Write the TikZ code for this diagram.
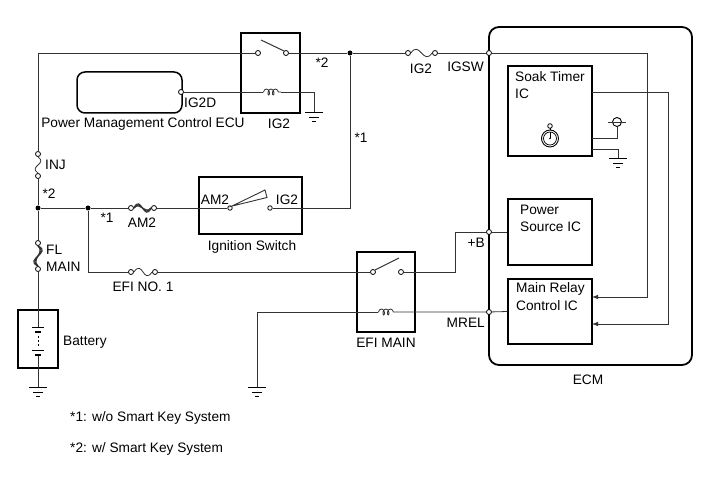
\documentclass[tikz,border=0pt]{standalone}
\usepackage{fontspec}
\setmainfont{Liberation Sans}
\usetikzlibrary{arrows.meta,decorations.pathmorphing}
\begin{document}
\begin{tikzpicture}[x=1pt,y=-1pt,
  wire/.style={line width=0.8pt, draw=black!80},
  box/.style={draw, line width=1.5pt, inner sep=0pt},
  term/.style={circle, draw, line width=0.8pt, fill=white, inner sep=0pt, minimum size=5pt},
  jdot/.style={circle, fill=black, inner sep=0pt, minimum size=5pt},
  lbl/.style={font=\fontsize{13.7}{16}\selectfont, inner sep=0pt},
  coilsty/.style={wire, decorate, decoration={coil, aspect=0.6, segment length=4.5pt, amplitude=3pt, pre length=0.5pt, post length=0.5pt}},
  gnd/.pic={\draw[line width=1pt] (-9,0) -- (9,0); \draw[line width=0.8pt] (-5,4) -- (5,4); \draw[line width=0.8pt] (-2,8) -- (2,8);},
  arr/.style={wire, -{Latex[length=6pt,width=4.5pt]}}
]
\useasboundingbox (0,0) rectangle (713,481);

% ---------- boxes ----------
\node[box, minimum width=59pt, minimum height=80pt] (rly1) at (270.5,73) {};
\node[box, rounded corners=8pt, minimum width=105pt, minimum height=41pt] (ecu) at (129.5,92.5) {};
\node[box, minimum width=103pt, minimum height=57pt] (ign) at (250.5,205.5) {};
\node[box, minimum width=58pt, minimum height=80pt] (rly2) at (386,292) {};
\node[box, minimum width=40pt, minimum height=58pt] (bat) at (38,339) {};
\node[box, line width=1.8pt, rounded corners=10pt, minimum width=203pt, minimum height=338pt] (ecm) at (590.5,196) {};
\node[box, minimum width=84pt, minimum height=90pt] (soak) at (550,111) {};
\node[box, minimum width=84pt, minimum height=66pt] (psic) at (550,232) {};
\node[box, minimum width=84pt, minimum height=65pt] (mrc) at (550,311.5) {};

% ---------- terminals, junctions ----------
\node[term] (rA) at (258,53) {};
\node[term] (rB) at (286,53) {};
\node[jdot] (j1) at (350,53) {};
\node[term] (fga) at (408,53) {};
\node[term] (fgb) at (435,53) {};
\node[term] (igsw) at (489,53) {};
\node[term] (ecup) at (181,92) {};
\node[term] (inja) at (38,154) {};
\node[term] (injb) at (38,176) {};
\node[jdot] (j2) at (38,208) {};
\node[jdot] (j3) at (88,208) {};
\node[term] (ama) at (131,208) {};
\node[term] (amb) at (154,208) {};
\node[term, minimum size=4.5pt] (swa) at (230,208) {};
\node[term, minimum size=4.5pt] (swb) at (270,208) {};
\node[term] (fla) at (38,243) {};
\node[term] (flb) at (38,269) {};
\node[term] (efa) at (131,272) {};
\node[term] (efb) at (155,272) {};
\node[term] (rC) at (373,272) {};
\node[term] (rD) at (401,272) {};
\node[term] (pb) at (489,232) {};
\node[term] (mrel) at (489,312) {};

\coordinate (tl) at (38,53);
\coordinate (c1a) at (263,92);
\coordinate (c1b) at (281,92);
\coordinate (g1) at (314,113);
\coordinate (c2a) at (378,312);
\coordinate (c2b) at (397,312);
\coordinate (g2) at (257,388);
\coordinate (g3) at (38,388);
\coordinate (bp1) at (38,327);
\coordinate (bp2) at (38,355);
\coordinate (a1) at (592,297);
\coordinate (a2) at (592,324);
\coordinate (s1) at (592,92);

% ---------- wires ----------
\draw[wire] (inja) -- (tl) -- (rA);
\draw[wire] (rB) -- (j1) -- (fga);
\draw[wire] (fgb) -- (igsw);
\draw[arr] (igsw) -- (647,53) -- (647,297) -- (a1);
\draw[arr] (s1) -- (668,92) -- (668,324) -- (a2);
\draw[wire] (injb) -- (j2) -- (fla);
\draw[wire] (flb) -- (bp1);
\draw[wire] (bp2) -- (g3);
\draw[wire] (j2) -- (j3) -- (ama);
\draw[wire] (amb) -- (swa);
\draw[wire] (swb) -- (350,208) -- (j1);
\draw[wire] (j3) -- (88,272) -- (efa);
\draw[wire] (efb) -- (rC);
\draw[wire] (rD) -- (455,272) -- (455,232) -- (pb) -- (psic.west);
\draw[wire] (g2) -- (257,312) -- (c2a);
\draw[wire] (c2b) -- (mrel) -- (mrc.west);
\draw[wire] (ecup) -- (c1a);
\draw[wire] (c1b) -- (314,92) -- (g1);

% coils
\draw[coilsty] (c1a) -- (c1b);
\draw[coilsty] (c2a) -- (c2b);

% fuses
\draw[wire] (fga.east) .. controls +(9,-13) and +(-9,13) .. (fgb.west);
\draw[wire] (efa.east) .. controls +(9,-13) and +(-9,13) .. (efb.west);
\draw[wire] (inja.south) .. controls +(10,7) and +(-10,-7) .. (injb.north);
% fusible links
\draw[wire, line width=1pt] (ama.east) .. controls +(7,-7) and +(-7,7) .. (amb.west);
\draw[wire, line width=1.4pt] (ama.east) .. controls +(7,-11) and +(-7,11) .. (amb.west);
\draw[wire, line width=1pt] (ama.east) .. controls +(7,-15) and +(-7,15) .. (amb.west);
\draw[wire, line width=1pt] (fla.south) .. controls +(7,7) and +(-7,-7) .. (flb.north);
\draw[wire, line width=1.4pt] (fla.south) .. controls +(11,7) and +(-11,-7) .. (flb.north);
\draw[wire, line width=1pt] (fla.south) .. controls +(15,7) and +(-15,-7) .. (flb.north);

% switch arms
\draw[wire, line width=1pt] (261,40) -- (rB.north west);
\draw[wire, line width=1pt] (rC.north east) -- (399,258);
\draw[wire, line width=0.9pt, fill=white] (swa.north east) -- (265,190) -- (267,197.5) -- cycle;

% grounds
\pic at (g1) {gnd};
\pic at (g2) {gnd};
\pic at (g3) {gnd};
\draw[wire] (592,149) -- (618,149) -- (618,159);
\pic at (618,159) {gnd};

% soak timer signal symbol
\node[circle, draw, line width=0.9pt, inner sep=0pt, minimum size=9pt] (sym) at (617,122) {};
\draw[wire, line width=0.9pt] (608,122) -- (626,122);
\draw[wire] (592,138) -- (617,138) -- (sym.south);

% stopwatch
\draw[line width=0.9pt] (550,138.5) circle (8.5);
\draw[line width=0.7pt] (550,138.5) circle (6.5);
\draw[line width=0.8pt] (550,126) circle (2.3);
\draw[line width=0.8pt] (550,128.3) -- (550,130);
\draw[line width=0.8pt] (550,138.5) -- (550,132);
\fill (550,138.5) circle (0.9);

% battery cells
\draw[line width=0.9pt] (32,327) -- (44,327);
\draw[line width=2pt] (35,332) -- (41,332);
\draw[line width=0.8pt, dash pattern=on 2pt off 2pt] (38,336) -- (38,347);
\draw[line width=0.9pt] (32,350) -- (44,350);
\draw[line width=2pt] (35,355) -- (41,355);

% ---------- labels ----------
\node[lbl] (t1) at (143,124) {Power Management Control ECU};
\node[lbl] (t2) at (279,124) {IG2};
\node[lbl, anchor=west] (t3) at (184,103) {IG2D};
\node[lbl] (t4) at (322,63) {*2};
\node[lbl] (t5) at (361,138) {*1};
\node[lbl] (t6) at (421,69) {IG2};
\node[lbl, anchor=east] (t7) at (484,67) {IGSW};
\node[lbl, anchor=west] (t8) at (515,77) {Soak Timer};
\node[lbl, anchor=west] (t9) at (515,94) {IC};
\node[lbl, anchor=west] (t10) at (520,210) {Power};
\node[lbl, anchor=west] (t11) at (520,227) {Source IC};
\node[lbl, anchor=west] (t12) at (516,289) {Main Relay};
\node[lbl, anchor=west] (t13) at (516,306) {Control IC};
\node[lbl, anchor=east] (t14) at (485,243) {+B};
\node[lbl, anchor=east] (t15) at (485,323) {MREL};
\node[lbl] (t16) at (386,343) {EFI MAIN};
\node[lbl] (t17) at (588,380) {ECM};
\node[lbl, anchor=west] (t18) at (45,165) {INJ};
\node[lbl] (t19) at (49,194) {*2};
\node[lbl] (t20) at (107,218) {*1};
\node[lbl] (t21) at (142,223) {AM2};
\node[lbl, anchor=west] (t22) at (46,250) {FL};
\node[lbl, anchor=west] (t23) at (46,267) {MAIN};
\node[lbl] (t24) at (143,287) {EFI NO. 1};
\node[lbl] (t25) at (252,247) {Ignition Switch};
\node[lbl] (t26) at (215,200) {AM2};
\node[lbl] (t27) at (287,200) {IG2};
\node[lbl, anchor=west] (t28) at (63,342) {Battery};
\node[lbl, anchor=west] (t29) at (70,418) {*1: w/o Smart Key System};
\node[lbl, anchor=west] (t30) at (70,449) {*2: w/ Smart Key System};
\end{tikzpicture}
\end{document}
